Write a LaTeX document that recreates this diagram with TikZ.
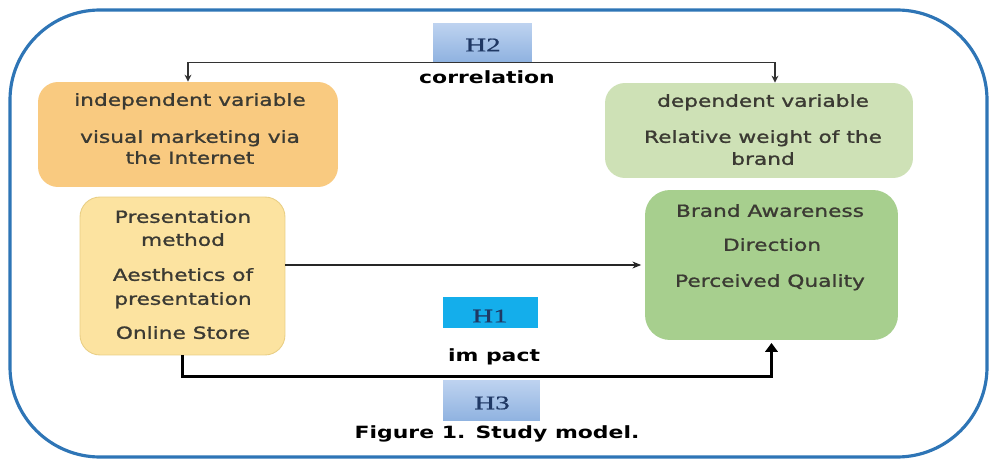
\documentclass[tikz,border=0pt]{standalone}
\usepackage{fontspec}
\setmainfont[FakeStretch=1.3]{DejaVu Sans}
\newfontfamily\boxfont[FakeStretch=1.3,FakeBold=1.2]{DejaVu Sans}
\newfontfamily\hfont[FakeStretch=1.5,FakeBold=0.8]{Liberation Serif}
\usetikzlibrary{arrows.meta}
\definecolor{framec}{HTML}{2E75B6}
\definecolor{orangec}{HTML}{F9CA80}
\definecolor{yellowc}{HTML}{FCE3A0}
\definecolor{yellowd}{HTML}{E9CF85}
\definecolor{depc}{HTML}{CEE1B6}
\definecolor{brandc}{HTML}{A7CF8E}
\definecolor{htop}{HTML}{BED3F0}
\definecolor{hbot}{HTML}{8FB2E0}
\definecolor{honec}{HTML}{14AEEB}
\definecolor{hnavy}{HTML}{1F3864}
\definecolor{boxtext}{HTML}{3B3A33}
\begin{document}
\begin{tikzpicture}[x=0.02cm,y=-0.02cm,
  vbox/.style={rectangle,rounded corners=0.4cm,inner sep=0pt},
  hbox/.style={rectangle,inner sep=0pt,top color=htop,bottom color=hbot,draw=none},
  btxt/.style={inner sep=0pt,text height=1ex,text depth=0pt,text=boxtext,font=\boxfont\fontsize{9.5}{11}\selectfont},
  blab/.style={inner sep=0pt,text height=1ex,text depth=0pt,text=black,font=\fontsize{9.6}{11}\selectfont\bfseries},
  htxt/.style={inner sep=0pt,text=hnavy,font=\hfont\fontsize{11}{12}\selectfont},
  corr/.style={draw=black!80,line width=0.8pt,-{Stealth[length=4pt,width=4pt]}},
  h1arrow/.style={draw=black!85,line width=0.7pt,-{Stealth[length=5pt,width=4pt]},shorten >=2pt},
  h3arrow/.style={draw=black,line width=2pt,-{Triangle[length=5pt,width=7pt]},shorten >=1.5pt}
]
\useasboundingbox (0,0) rectangle (990,459);
% frame
\draw[framec,line width=1.8pt,fill=white,rounded corners=1.8cm] (10,10) rectangle (987,457);

% boxes
\node[vbox,fill=orangec,minimum width=6.0cm,minimum height=2.1cm] (indep) at (188,134.5) {};
\node[vbox,fill=depc,minimum width=6.16cm,minimum height=1.9cm] (dep) at (759,130.5) {};
\node[vbox,fill=yellowc,draw=yellowd,line width=0.5pt,minimum width=4.1cm,minimum height=3.16cm] (pres) at (182.5,276) {};
\node[vbox,fill=brandc,rounded corners=0.5cm,minimum width=5.06cm,minimum height=3.0cm] (brand) at (771.5,265) {};

\node[hbox,minimum width=1.98cm,minimum height=0.78cm] (h2) at (482.5,42.5) {};
\node[rectangle,inner sep=0pt,fill=honec,minimum width=1.9cm,minimum height=0.62cm] (h1) at (490.5,312.5) {};
\node[hbox,minimum width=1.94cm,minimum height=0.82cm] (h3) at (491.5,400.5) {};

% hypothesis labels
\node[htxt] (h2t) at (483,45) {H2};
\node[htxt] (h1t) at (490,316) {H1};
\node[htxt] (h3t) at (492,403) {H3};

% texts in boxes
\node[btxt] (t1) at (190,101) {independent variable};
\node[btxt] (t2) at (190,138) {visual marketing via};
\node[btxt] (t3) at (190,159) {the Internet};

\node[btxt] (t4) at (763,102) {dependent variable};
\node[btxt] (t5) at (763,138) {Relative weight of the};
\node[btxt] (t6) at (763,160) {brand};

\node[btxt] (t7) at (183,218) {Presentation};
\node[btxt] (t8) at (183,241) {method};
\node[btxt] (t9) at (183,276) {Aesthetics of};
\node[btxt] (t10) at (183,300) {presentation};
\node[btxt] (t11) at (183,334) {Online Store};

\node[btxt] (t12) at (770,212) {Brand Awareness};
\node[btxt] (t13) at (772,246) {Direction};
\node[btxt] (t14) at (770,282) {Perceived Quality};

% labels
\node[blab] (corrl) at (487,79) {correlation};
\node[blab] (impl) at (494,357) {im pact};
\node[blab] (cap) at (497,434) {Figure 1. Study model.};

% connectors
\draw[corr] (h2.south) -| (indep.north);
\draw[corr] (h2.south) -| ([xshift=0.32cm]dep.north);
\draw[h1arrow] (brand.west -| pres.east) -- (brand.west);
\draw[h3arrow] (pres.south) -- ++(0,21) -| (brand.south);
\end{tikzpicture}
\end{document}
